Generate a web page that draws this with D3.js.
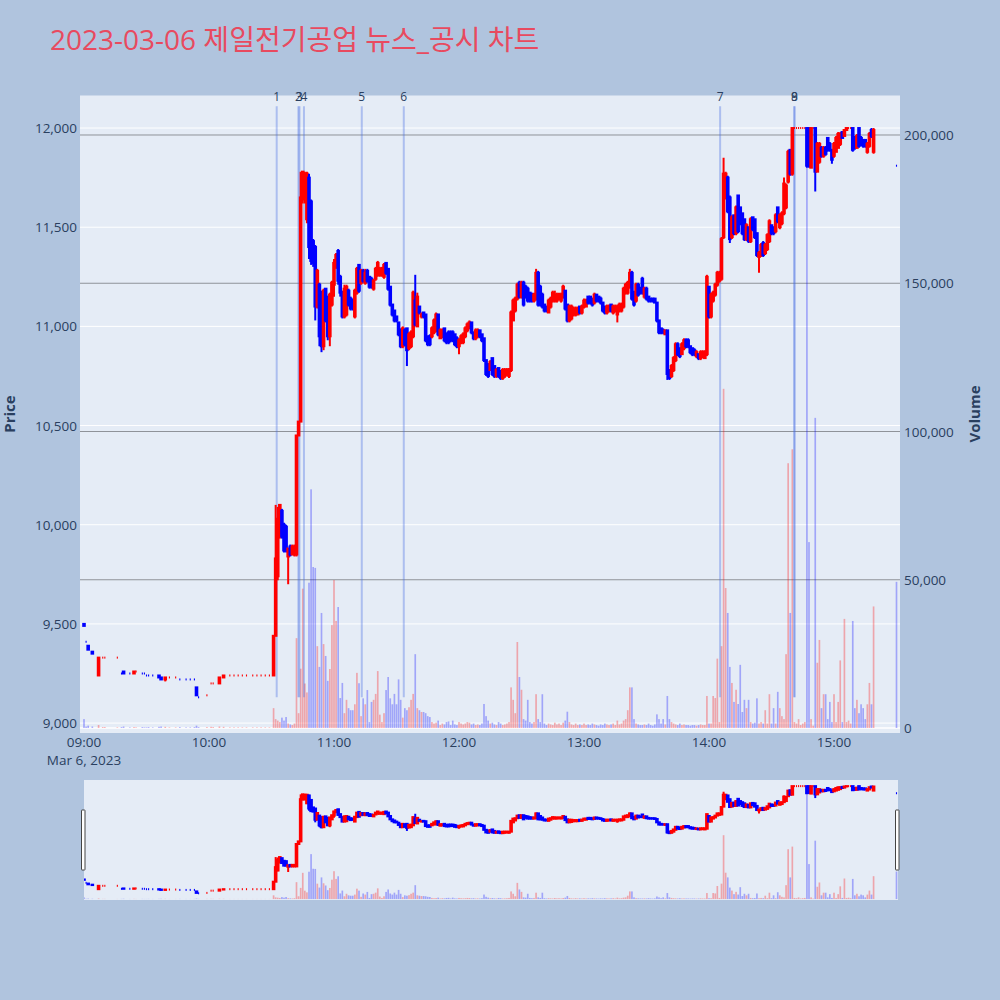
<!DOCTYPE html>
<html><head><meta charset="utf-8">
<script src="https://cdn.jsdelivr.net/npm/d3@7"></script>
<style>body{margin:0;background:#b0c4de;}svg{display:block;}</style>
</head><body>
<svg id="chart" width="1000" height="1000"></svg>
<script>
// ---------------- DATA ----------------
const chartTitle = "2023-03-06 제일전기공업 뉴스_공시 차트";
const dateLabel = "Mar 6, 2023";
// minutes after 09:00
const minute = [
0,1,2,4,7,9,10,16,18,19,
22,24,25,28,29,30,31,33,36,37,
39,41,44,46,49,51,53,54,55,59,
61,62,65,67,70,72,74,76,78,81,
83,85,87,89,91,92,93,94,95,96,
97,98,99,100,101,102,103,104,105,106,
107,108,109,110,111,112,113,114,115,116,
117,118,119,120,121,122,123,124,125,126,
127,128,129,130,131,132,133,134,135,136,
137,138,139,140,141,142,143,144,145,146,
147,148,149,150,151,152,153,154,155,156,
157,158,159,160,161,162,163,164,165,166,
167,168,169,170,171,172,173,174,175,176,
177,178,179,180,181,182,183,184,185,186,
187,188,189,190,191,192,193,194,195,196,
197,198,199,200,201,202,203,204,205,206,
207,208,209,210,211,212,213,214,215,216,
217,218,219,220,221,222,223,224,225,226,
227,228,229,230,231,232,233,234,235,236,
237,238,239,240,241,242,243,244,245,246,
247,248,249,250,251,252,253,254,255,256,
257,258,259,260,261,262,263,264,265,266,
267,268,269,270,271,272,273,274,275,276,
277,278,279,280,281,282,283,284,285,286,
287,288,289,290,291,292,293,294,295,296,
297,298,299,300,301,302,303,304,305,306,
307,308,309,310,311,312,313,314,315,316,
317,318,319,320,321,322,323,324,325,326,
327,328,329,330,331,332,333,334,335,336,
337,338,339,340,341,342,343,344,345,346,
347,348,349,350,351,352,353,354,355,356,
357,358,359,360,361,362,363,364,365,366,
367,368,369,370,371,372,373,374,375,376,
377,378,379,390];
const open = [
9500,9410,9390,9360,9240,9330,9330,9330,9250,9260,
9250,9250,9260,9250,9250,9240,9240,9240,9240,9230,
9220,9230,9230,9220,9220,9220,9220,9180,9130,9140,
9200,9200,9200,9230,9240,9240,9240,9240,9240,9240,
9240,9240,9240,9240,9240,9440,9740,9960,10070,10000,
9990,9840,9890,9850,9850,9850,10450,10520,11640,11650,
11540,11750,11630,11430,11400,11100,11210,11170,10900,11190,
11150,10950,11110,11210,11300,11380,11250,11170,11050,11060,
11180,11140,11130,11050,11170,11310,11220,11280,11220,11280,
11250,11240,11190,11240,11260,11260,11260,11250,11320,11290,
11200,11110,11080,11050,11020,10980,10900,10980,10990,10890,
10900,10950,11130,11000,11100,11050,11070,11060,10950,10950,
10950,10970,10980,11060,10940,10950,10990,10960,10970,10970,
10970,10960,10940,10900,10920,10920,10950,10980,10990,11020,
10970,10940,10950,10980,10960,10940,10830,10810,10780,10840,
10800,10750,10790,10770,10740,10750,10760,10750,10780,11030,
11080,11140,11220,11150,11220,11200,11190,11170,11160,11130,
11140,11270,11200,11160,11110,11100,11070,11100,11130,11130,
11130,11140,11130,11150,11180,11110,11030,11040,11060,11060,
11060,11100,11070,11100,11100,11150,11150,11140,11120,11160,
11150,11140,11120,11100,11070,11080,11110,11070,11080,11060,
11080,11080,11100,11170,11170,11200,11270,11170,11130,11210,
11190,11240,11150,11190,11150,11140,11140,11140,11120,11030,
10990,10980,10960,10980,10780,10750,10780,10830,10910,10890,
10860,10890,10930,10930,10900,10890,10880,10850,10860,10840,
10850,10840,10860,11200,11050,11130,11160,11210,11230,11240,
11450,11650,11750,11650,11450,11560,11470,11660,11600,11570,
11540,11440,11500,11430,11550,11540,11470,11350,11360,11420,
11370,11390,11430,11510,11500,11480,11600,11500,11520,11570,
11600,11730,11890,11770,12000,12000,12000,12000,12000,12000,
12000,12000,11800,12000,12000,11780,11830,11900,11860,11900,
11950,11920,11890,11860,11880,11900,11920,11980,11960,11990,
12000,12000,12000,11950,11900,12000,11950,11940,11940,11880,
11910,11990,11880,11810];
const high = [
9500,9410,9390,9360,9330,9330,9330,9330,9250,9260,
9250,9260,9260,9250,9250,9240,9240,9240,9240,9230,
9230,9230,9230,9220,9220,9220,9220,9180,9130,9140,
9200,9200,9230,9240,9240,9240,9240,9240,9240,9240,
9240,9240,9240,9240,9440,10100,10090,10100,10080,10010,
10000,9880,9900,9900,9900,10450,10520,11780,11780,11780,
11780,11770,11640,11440,11410,11290,11220,11180,11190,11190,
11150,11170,11230,11340,11370,11390,11260,11180,11210,11210,
11190,11150,11140,11190,11300,11310,11290,11290,11290,11290,
11250,11250,11240,11300,11330,11300,11300,11320,11320,11290,
11200,11110,11080,11050,11020,10990,11000,10990,10990,10970,
10980,11180,11260,11170,11100,11070,11070,11060,10950,10960,
11000,11040,11070,11060,10990,10990,10990,10970,10980,10980,
10980,10960,10950,10940,10960,10970,11000,11020,11030,11020,
10970,10990,10990,10980,10960,10940,10830,10810,10830,10840,
10800,10790,10790,10780,10790,10790,10790,10790,11080,11140,
11150,11220,11230,11230,11230,11210,11200,11170,11170,11170,
11290,11280,11210,11170,11110,11100,11140,11150,11180,11180,
11170,11170,11170,11210,11180,11110,11110,11110,11100,11100,
11100,11100,11110,11140,11140,11150,11150,11140,11170,11160,
11150,11150,11120,11100,11110,11110,11110,11110,11110,11110,
11120,11120,11200,11220,11230,11290,11280,11180,11220,11220,
11200,11250,11200,11200,11150,11140,11140,11140,11120,11030,
10990,10990,10980,10980,10780,10810,10850,10920,10920,10890,
10920,10940,10940,10940,10900,10890,10890,10880,10860,10880,
10880,10880,11260,11200,11170,11180,11220,11280,11280,11450,
11850,11780,11760,11660,11560,11560,11610,11660,11600,11570,
11540,11520,11500,11550,11550,11540,11470,11380,11420,11430,
11420,11470,11540,11510,11500,11570,11600,11570,11580,11750,
11720,11890,11890,12000,12000,12000,12000,12000,12000,12000,
12000,12000,12000,12000,12000,11930,11930,11910,11910,11910,
11950,11930,11890,11930,11960,11980,11980,11980,11990,12000,
12000,12000,12000,11960,11970,12000,11960,11940,11940,11930,
11980,12000,12000,11810];
const low = [
9490,9410,9370,9350,9240,9330,9330,9330,9250,9250,
9250,9250,9260,9250,9250,9240,9240,9240,9230,9220,
9210,9230,9230,9220,9220,9220,9220,9140,9130,9140,
9200,9200,9200,9230,9240,9240,9240,9240,9240,9240,
9240,9240,9240,9240,9240,9440,9720,9930,9930,9860,
9860,9700,9840,9850,9840,9840,10450,10520,11620,11620,
11520,11340,11310,11300,11030,11090,10900,10870,10880,11020,
10930,10900,11100,11150,11290,11210,11150,11040,11040,11050,
11100,11080,11080,11040,11160,11170,11210,11220,11210,11220,
11190,11190,11180,11230,11250,11250,11250,11240,11260,11180,
11100,11050,11020,11020,10950,10890,10890,10900,10800,10880,
10890,10940,11000,11000,11060,11040,11040,10920,10900,10900,
10940,10960,10970,10950,10940,10940,10920,10910,10910,10920,
10920,10900,10890,10860,10910,10910,10940,10970,10990,10960,
10930,10930,10940,10940,10920,10820,10750,10740,10780,10750,
10740,10740,10740,10730,10730,10740,10750,10740,10770,11030,
11070,11130,11140,11140,11100,11140,11120,11120,11120,11120,
11130,11100,11100,11090,11070,11070,11070,11090,11120,11120,
11120,11130,11120,11140,11080,11020,11020,11030,11050,11050,
11060,11060,11060,11090,11100,11110,11110,11100,11110,11120,
11120,11110,11070,11060,11060,11070,11070,11060,11070,11020,
11070,11070,11090,11160,11160,11190,11130,11100,11120,11150,
11160,11160,11140,11130,11120,11120,11120,11120,11020,10960,
10960,10960,10960,10730,10730,10740,10770,10820,10850,10840,
10860,10880,10890,10890,10860,10850,10850,10840,10830,10830,
10840,10840,10850,11040,11040,11120,11150,11200,11220,11230,
11440,11640,11570,11420,11440,11460,11460,11470,11510,11460,
11430,11430,11420,11420,11480,11440,11350,11270,11350,11350,
11360,11380,11420,11460,11460,11470,11520,11490,11510,11560,
11590,11720,11760,11760,12000,12000,12000,12000,12000,12000,
11800,11800,11800,12000,11680,11780,11820,11850,11850,11860,
11880,11880,11820,11850,11880,11900,11910,11950,11960,11990,
12000,12000,11880,11890,11900,11900,11910,11900,11900,11870,
11900,11950,11870,11810];
const close = [
9490,9410,9370,9350,9330,9330,9330,9330,9250,9250,
9250,9260,9260,9250,9250,9240,9240,9240,9230,9220,
9230,9230,9230,9220,9220,9220,9220,9140,9130,9140,
9200,9200,9230,9240,9240,9240,9240,9240,9240,9240,
9240,9240,9240,9240,9440,9830,10030,10100,9940,9870,
9870,9880,9850,9890,9890,10450,10520,11650,11780,11770,
11770,11400,11330,11320,11100,11280,10950,10900,11180,11030,
10950,11160,11220,11320,11360,11230,11170,11050,11190,11200,
11110,11090,11100,11180,11290,11180,11280,11230,11270,11230,
11200,11200,11230,11290,11320,11290,11290,11310,11270,11190,
11110,11060,11030,11030,10960,10900,10990,10910,10880,10960,
10970,11170,11010,11150,11070,11060,11050,10930,10910,10910,
10990,11030,11060,10960,10980,10980,10930,10920,10920,10930,
10930,10910,10900,10930,10950,10960,10990,11010,11020,10970,
10940,10980,10980,10950,10930,10830,10760,10750,10820,10760,
10750,10780,10750,10740,10780,10780,10780,10780,11070,11130,
11140,11210,11150,11220,11110,11150,11130,11130,11130,11160,
11270,11110,11110,11100,11080,11080,11130,11140,11170,11160,
11160,11160,11160,11200,11090,11030,11100,11100,11090,11090,
11090,11070,11100,11130,11130,11120,11120,11110,11160,11130,
11130,11120,11080,11070,11100,11100,11080,11100,11100,11100,
11110,11110,11190,11210,11220,11270,11140,11110,11210,11160,
11170,11170,11190,11140,11130,11130,11130,11120,11030,10970,
10970,10970,10980,10760,10740,10800,10840,10910,10860,10850,
10910,10930,10900,10900,10870,10860,10860,10870,10840,10870,
10870,10870,11250,11050,11160,11170,11210,11270,11270,11440,
11770,11770,11580,11440,11550,11470,11600,11480,11520,11470,
11440,11510,11430,11540,11490,11450,11360,11370,11410,11360,
11410,11460,11530,11470,11470,11560,11530,11560,11570,11720,
11710,11880,11770,12000,12000,12000,12000,12000,12000,12000,
11810,11820,12000,12000,11780,11920,11920,11860,11900,11870,
11890,11890,11840,11920,11950,11970,11970,11950,11990,12000,
12000,12000,11890,11900,11960,11910,11920,11910,11910,11920,
11970,11960,11990,11810];
const volume = [
3000,500,800,500,1000,300,300,200,300,500,
200,300,200,300,200,200,300,200,400,500,
400,200,200,300,200,200,300,800,300,300,
400,300,500,400,200,200,200,200,200,200,
200,200,200,200,6700,3000,2500,2000,3500,2500,
3700,1500,1200,1000,1500,30300,5000,20000,47000,15000,
12000,49000,80500,54300,54000,27600,20600,38800,28300,24300,
15900,19900,34700,49900,36100,40800,10100,15200,5000,9500,
6700,6000,6000,8000,18600,15100,4000,10000,8000,12800,
2000,8800,9500,11500,19200,4500,2000,5000,12800,17200,
10000,8000,11500,8000,16400,9500,3500,6700,6000,7000,
9500,11500,24900,6700,6000,5400,5400,5000,4000,3700,
2000,1500,1800,2500,1000,1500,1200,2000,2200,1000,
2500,1200,1000,2000,1500,1200,1500,2000,1800,1200,
1500,1000,1200,1000,1500,8100,4000,2500,1500,1800,
1200,1000,2000,1500,1000,1200,1500,2000,13700,9500,
5000,29000,17200,12900,3000,2500,9500,2000,1500,2000,
11400,3000,2000,11400,1500,1000,1500,1200,1000,1800,
1200,1500,1000,1800,2500,5500,2000,1200,1000,1500,
1000,1200,1000,1500,1000,1200,1000,1500,1200,1000,
800,1200,1000,1500,1200,1000,1200,1500,1000,2500,
1200,1500,2500,3000,6000,13700,13700,3000,1500,1200,
1000,1000,1200,1000,1500,1000,800,1200,4600,3000,
1500,3000,1200,10800,3000,2000,1500,1200,1000,1500,
1000,1200,1000,1000,800,1000,1000,800,1000,1200,
1000,1000,10800,1500,1500,10800,10100,23400,2000,27600,
114400,47200,38800,20600,15200,8800,12900,8100,21300,5400,
9500,6700,9500,2000,1500,1800,10000,1500,2000,1500,
6000,1500,11400,1500,6700,1500,12200,6700,4000,3000,
24900,89300,38800,94000,2000,1500,3000,1000,1500,2000,
201000,62700,3000,800,104600,22000,29700,6700,11400,11400,
3000,8800,2000,11400,2000,8800,22800,2000,36800,2000,
2500,1500,36100,6700,9500,5000,8000,6700,3000,8000,
15200,8000,41000,49300];
// news markers
const newsLabels = ["1","2","3","4","5","6","7","8","9"];
const newsTimes = ["10:32:30","10:42:55","10:43:25","10:45:35","11:13:20","11:33:30","14:05:20","14:41:00","14:41:00"];
const newsSpan = [9130, 12110];
const priceTicks = [9000,9500,10000,10500,11000,11500,12000];
const volumeTicks = [0,50000,100000,150000,200000];
const hourTicks = ["09:00","10:00","11:00","12:00","13:00","14:00","15:00"];
const priceRange = [8950, 12164];
const volumeRange = [-1686, 213322];

// ---------------- HELPERS ----------------
const base = new Date(2023, 2, 6, 9, 0, 0).getTime();
const tAt = m => new Date(base + m * 60000);
const parseHMS = s => { const p = s.split(":").map(Number); return new Date(2023, 2, 6, p[0], p[1], p[2] || 0); };

const svg = d3.select("#chart");
const W = 1000, H = 1000;
svg.append("rect").attr("width", W).attr("height", H).attr("fill", "#b0c4de");

const L = 80, R = 900, T = 95.5, B = 733;
const sT = 780, sB = 900, sL = 84, sR = 898;

const x = d3.scaleTime().domain([tAt(-1.92), tAt(391.68)]).range([L, R]);
const yP = d3.scaleLinear().domain(priceRange).range([B, T]);
const yV = d3.scaleLinear().domain(volumeRange).range([B, T]);
const yPs = d3.scaleLinear().domain(priceRange).range([sB, sT]);
const yVs = d3.scaleLinear().domain(volumeRange).range([sB, sT]);

const UP = "#ff0000", DN = "#0000ff";
const N = minute.length;
const dir = [];
for (let i = 0; i < N; i++) {
  let d;
  if (close[i] > open[i]) d = 1;
  else if (close[i] < open[i]) d = -1;
  else {
    const pc = i > 0 ? close[i - 1] : close[i];
    d = close[i] > pc ? 1 : close[i] < pc ? -1 : (i > 0 ? dir[i - 1] : -1);
  }
  dir.push(d);
}
const idx = d3.range(N);
const font = "'Open Sans', 'Noto Sans CJK KR', sans-serif";
const txtCol = "#2a3f5f";

// ---------------- TITLE ----------------
svg.append("text").attr("x", 50).attr("y", 50).attr("font-family", font)
  .attr("font-size", 28).attr("fill", "#e84a5f").text(chartTitle);

// ---------------- MAIN PLOT ----------------
const defs = svg.append("defs");
defs.append("clipPath").attr("id", "clipMain").append("rect")
  .attr("x", L).attr("y", T).attr("width", R - L).attr("height", B - T);
defs.append("clipPath").attr("id", "clipSlider").append("rect")
  .attr("x", sL).attr("y", sT).attr("width", sR - sL).attr("height", sB - sT);

svg.append("rect").attr("x", L).attr("y", T).attr("width", R - L).attr("height", B - T).attr("fill", "#e5ecf6");

const grid = svg.append("g");
priceTicks.forEach(v => grid.append("line").attr("x1", L).attr("x2", R)
  .attr("y1", yP(v)).attr("y2", yP(v)).attr("stroke", "#ffffff").attr("stroke-width", 1));
grid.append("line").attr("x1", L).attr("x2", R).attr("y1", yV(0)).attr("y2", yV(0))
  .attr("stroke", "#ffffff").attr("stroke-width", 1.5);
volumeTicks.filter(v => v > 0).forEach(v => grid.append("line").attr("x1", L).attr("x2", R)
  .attr("y1", yV(v)).attr("y2", yV(v)).attr("stroke", "#8f9399").attr("stroke-width", 1));

function drawVolume(g, yv) {
  g.selectAll("rect.v").data(idx).enter().append("rect")
    .attr("x", i => x(tAt(minute[i] - 0.4)))
    .attr("width", i => x(tAt(minute[i] + 0.4)) - x(tAt(minute[i] - 0.4)))
    .attr("y", i => yv(volume[i]))
    .attr("height", i => Math.max(0, yv(0) - yv(volume[i])))
    .attr("fill", i => dir[i] > 0 ? UP : DN)
    .attr("fill-opacity", 0.3);
}
function drawCandles(g, yp) {
  const c = g.selectAll("g.c").data(idx).enter().append("g");
  c.filter(i => high[i] !== low[i]).append("line")
    .attr("x1", i => x(tAt(minute[i]))).attr("x2", i => x(tAt(minute[i])))
    .attr("y1", i => yp(high[i])).attr("y2", i => yp(low[i]))
    .attr("stroke", i => dir[i] > 0 ? UP : DN).attr("stroke-width", 2);
  c.append("rect")
    .attr("x", i => x(tAt(minute[i])) - (open[i] === close[i] ? 0.55 : 1.8))
    .attr("width", i => open[i] === close[i] ? 1.1 : 3.6)
    .attr("y", i => yp(Math.max(open[i], close[i])) - 1)
    .attr("height", i => Math.abs(yp(open[i]) - yp(close[i])) + 2)
    .attr("fill", i => dir[i] > 0 ? UP : DN);
}

const main = svg.append("g").attr("clip-path", "url(#clipMain)");
drawVolume(main.append("g"), yV);
// news lines
const news = main.append("g");
newsTimes.forEach(s => {
  const xx = x(parseHMS(s));
  news.append("line").attr("x1", xx).attr("x2", xx)
    .attr("y1", yP(newsSpan[1])).attr("y2", yP(newsSpan[0]))
    .attr("stroke", "royalblue").attr("stroke-opacity", 0.35).attr("stroke-width", 2);
});
drawCandles(main.append("g"), yP);

newsTimes.forEach((s, i) => {
  svg.append("text").attr("x", x(parseHMS(s))).attr("y", 101)
    .attr("text-anchor", "middle").attr("font-family", font).attr("font-size", 12)
    .attr("fill", txtCol).text(newsLabels[i]);
});

// ---------------- AXES ----------------
const ax = svg.append("g").attr("font-family", font).attr("fill", txtCol).attr("font-size", 13.5);
hourTicks.forEach(h => {
  const p = h.split(":").map(Number);
  ax.append("text").attr("x", x(new Date(2023, 2, 6, p[0], p[1]))).attr("y", 747)
    .attr("text-anchor", "middle").text(h);
});
ax.append("text").attr("x", x(new Date(2023, 2, 6, 9, 0))).attr("y", 765)
  .attr("text-anchor", "middle").text(dateLabel);
const fmt = d3.format(",");
priceTicks.forEach(v => ax.append("text").attr("x", 77).attr("y", yP(v) + 5)
  .attr("text-anchor", "end").text(fmt(v)));
volumeTicks.forEach(v => ax.append("text").attr("x", 904).attr("y", yV(v) + 5)
  .attr("text-anchor", "start").text(fmt(v)));
svg.append("text").attr("transform", "translate(15,414) rotate(-90)").attr("text-anchor", "middle")
  .attr("font-family", font).attr("font-size", 15).attr("font-weight", "bold").attr("fill", txtCol).text("Price");
svg.append("text").attr("transform", "translate(980,414) rotate(-90)").attr("text-anchor", "middle")
  .attr("font-family", font).attr("font-size", 15).attr("font-weight", "bold").attr("fill", txtCol).text("Volume");

// ---------------- RANGE SLIDER ----------------
svg.append("rect").attr("x", sL).attr("y", sT).attr("width", sR - sL).attr("height", sB - sT).attr("fill", "#e5ecf6");
const sl = svg.append("g").attr("clip-path", "url(#clipSlider)");
drawVolume(sl.append("g"), yVs);
drawCandles(sl.append("g"), yPs);
[[81.5, 810], [895.5, 810]].forEach(([gx, gy]) => {
  svg.append("rect").attr("x", gx).attr("y", gy).attr("width", 3.5).attr("height", 60)
    .attr("fill", "#ffffff").attr("stroke", "#444").attr("stroke-width", 1).attr("rx", 0.5);
});
</script>
</body></html>
